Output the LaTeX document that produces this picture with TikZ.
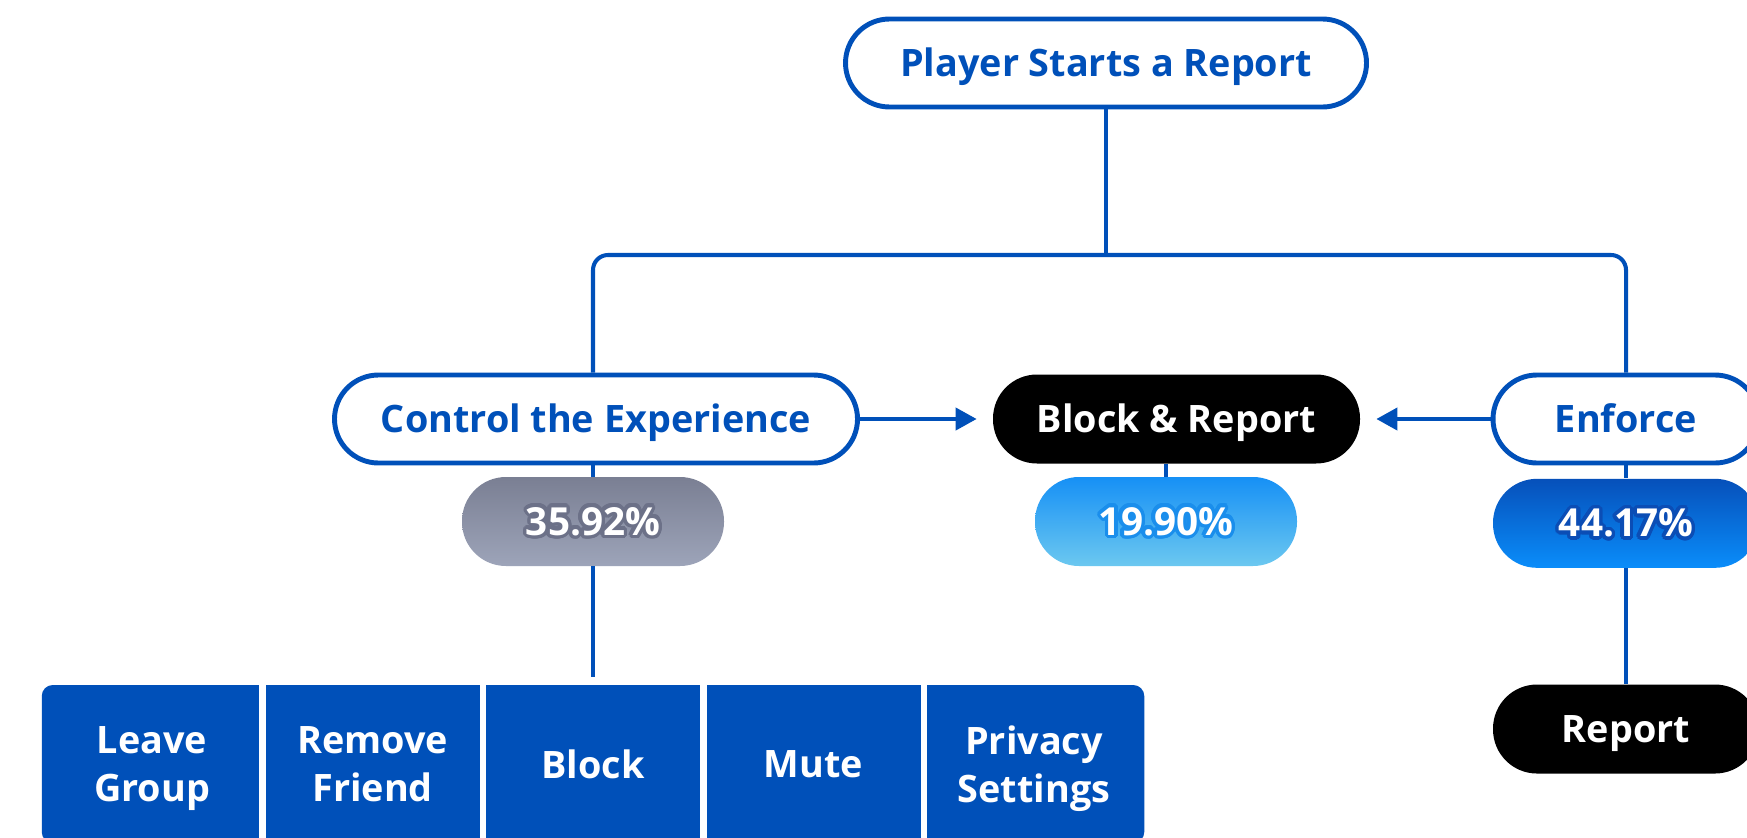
\documentclass[tikz,border=0pt]{standalone}
\usepackage{fontspec}
\setmainfont{Open Sans}
\usepackage{contour}
\usetikzlibrary{positioning,arrows.meta,backgrounds}
\definecolor{psblue}{HTML}{0050B9}
\definecolor{graytop}{HTML}{7A7F93}
\definecolor{graybot}{HTML}{9DA4B9}
\definecolor{grayline}{HTML}{6C7188}
\definecolor{skytop}{HTML}{1690F5}
\definecolor{skybot}{HTML}{6CC8F0}
\definecolor{skyline}{HTML}{1A8EEC}
\definecolor{deeptop}{HTML}{0650BA}
\definecolor{deepbot}{HTML}{0A8DFA}
\definecolor{deepline}{HTML}{0B4DB5}
\contourlength{2pt}
\contournumber{24}

\begin{document}
\begin{tikzpicture}[
    node distance=1.0cm,
    every node/.style={font=\bfseries\fontsize{21.5}{27.5}\selectfont},
    pill/.style={rounded corners=0.88cm, inner sep=0pt, text height=0.54cm, text depth=0pt},
    stage/.style={pill, draw=psblue, text=psblue, fill=white,
                  minimum height=1.76cm, line width=2.8pt},
    result/.style={pill, fill=black, text=white, minimum height=1.78cm},
    share/.style={pill, text=white, minimum height=1.78cm, minimum width=5.24cm,
                  font=\bfseries\fontsize{22}{26}\selectfont},
    option/.style={text=white, minimum width=4.41cm, minimum height=3.16cm,
                   align=center, inner sep=0pt, outer sep=0pt, text depth=0pt},
    link/.style={draw=psblue, line width=2.3pt},
    arr/.style={link, -{Triangle[length=0.42cm,width=0.44cm]}, shorten >=0.32cm}
]
    \useasboundingbox (0,0) rectangle (34.94,-16.74);
    \clip (0,0) rectangle (34.94,-16.74);

    % top and the three branches
    \node[stage, minimum width=10.42cm] (start) at (22.12,-1.26) {Player Starts a Report};
    \node[stage, minimum width=10.46cm] (ctrl) at (11.92,-8.38) {Control the Experience};
    \node[result, minimum width=7.34cm] (block) at (23.53,-8.38) {Block \& Report};
    \node[stage, minimum width=5.32cm] (enforce) at (32.52,-8.38) {Enforce};

    % shares
    \node[share, top color=graytop, bottom color=graybot] (pct1) at (11.86,-10.43)
        {\contour{grayline}{35.92\%}};
    \node[share, top color=skytop, bottom color=skybot] (pct2) at (23.32,-10.43)
        {\contour{skyline}{19.90\%}};
    \node[share, top color=deeptop, bottom color=deepbot, minimum width=5.32cm,
          below=0.26cm of enforce] (pct3) {\contour{deepline}{44.17\%}};

    \node[result, minimum width=5.32cm, below=2.32cm of pct3] (report) {Report};

    % player options
    \node[option] (opt3) at (11.86,-15.28) {Block};
    \node[option, left=0cm of opt3] (opt2) {Remove\\Friend};
    \node[option, left=0cm of opt2] (opt1) {Leave\\Group};
    \node[option, right=0cm of opt3] (opt4) {Mute};
    \node[option, right=0cm of opt4] (opt5) {Privacy\\Settings};
    \begin{scope}[on background layer]
        \fill[white] (0,0) rectangle (34.94,-16.74);
        \fill[psblue, rounded corners=0.22cm] (opt1.north west) rectangle (opt5.south east);
    \end{scope}
    \foreach \a in {1,...,4}
        \draw[white, line width=0.13cm] (opt\a.north east) -- (opt\a.south east);

    % connectors
    \coordinate (split) at (start |- 0,-5.10);
    \draw[link] (start.south) -- (split);
    \draw[link, rounded corners=0.3cm] (ctrl.north -| pct1) |- (split) -| (enforce.north);
    \draw[arr] (ctrl) -- (block);
    \draw[arr] (enforce) -- (block);
    \draw[link] (ctrl.south -| pct1) -- (pct1);
    \draw[link] (block.south -| pct2) -- (pct2);
    \draw[link] (enforce) -- (pct3);
    \draw[link, shorten >=0.16cm] (pct1) -- (opt3);
    \draw[link] (pct3) -- (report);
\end{tikzpicture}
\end{document}
